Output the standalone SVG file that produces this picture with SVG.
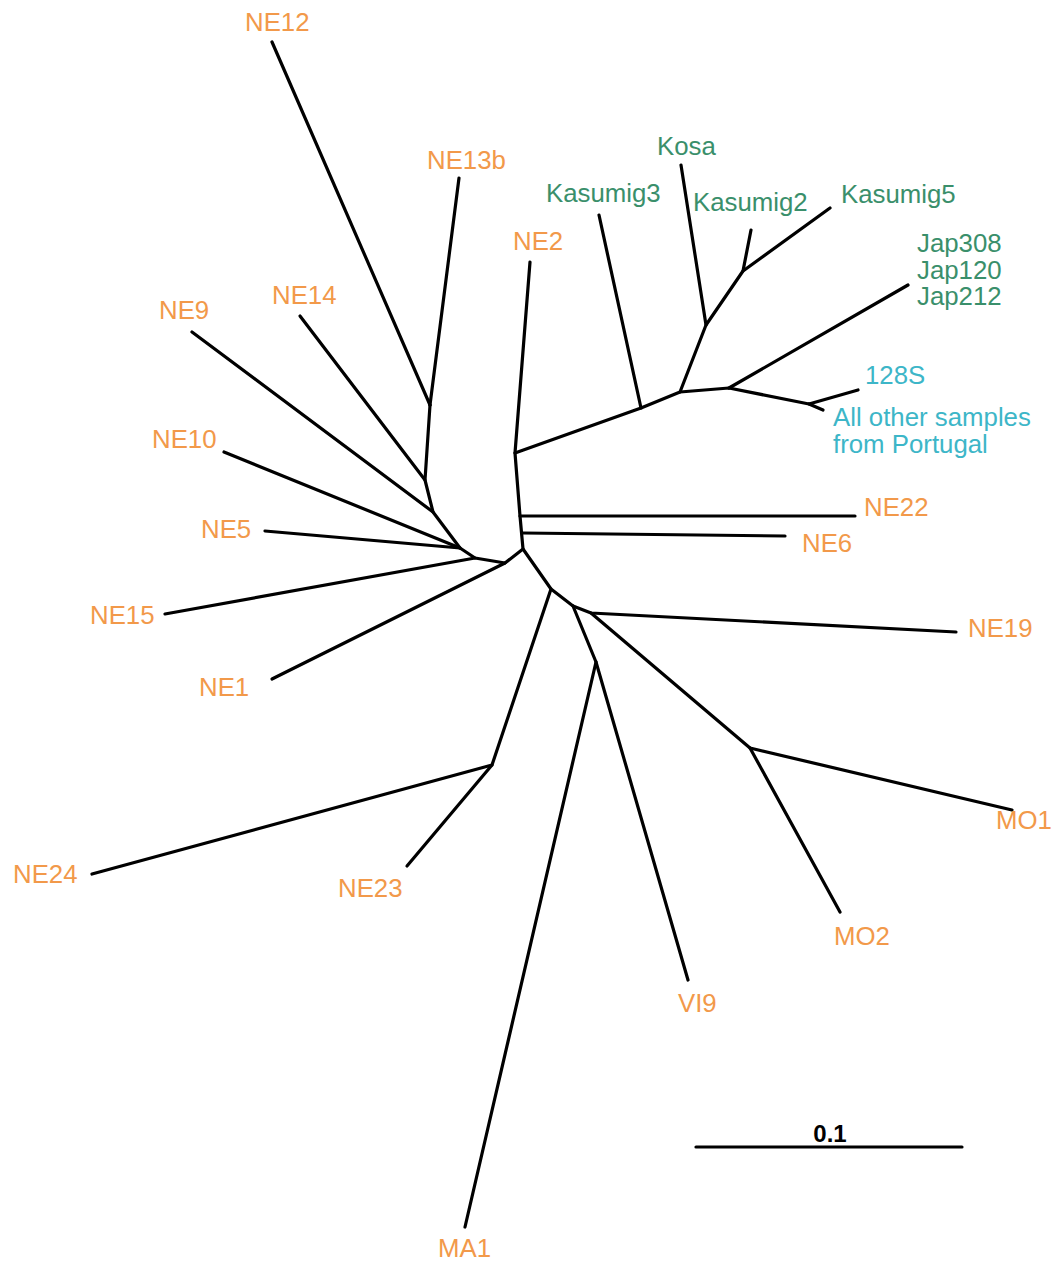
<svg xmlns="http://www.w3.org/2000/svg" width="1059" height="1266" viewBox="0 0 1059 1266">
<style>
.e{stroke:#000;stroke-width:3.2;fill:none;stroke-linecap:round;stroke-linejoin:round}
text{font-family:"Liberation Sans",Arial,sans-serif;font-size:25.8px}
.o{fill:#F2994A}
.g{fill:#3A8F6B}
.c{fill:#3DB6C8}
.s{font-weight:bold;font-size:24px;fill:#000}
</style>
<rect width="1059" height="1266" fill="#fff"/>
<g id="connectors" class="e">
<polyline points="430,405 425,480 433,512 460,548 475,558 505,563 523,549 520,516 515,453 530,262"/>
<line x1="430" y1="405" x2="272" y2="42"/>
<line x1="430" y1="405" x2="459" y2="178"/>
<line x1="425" y1="480" x2="300" y2="316"/>
<line x1="433" y1="512" x2="192" y2="332"/>
<line x1="460" y1="548" x2="224" y2="452"/>
<line x1="460" y1="548" x2="265" y2="531"/>
<line x1="475" y1="558" x2="165" y2="614"/>
<line x1="505" y1="563" x2="272" y2="679"/>
<line x1="520" y1="516" x2="855" y2="516"/>
<line x1="523" y1="533" x2="785" y2="536"/>
<polyline points="515,453 641,408 680,392 706,325 743,271 751,230"/>
<line x1="641" y1="408" x2="599" y2="215"/>
<line x1="706" y1="325" x2="681" y2="165"/>
<line x1="743" y1="271" x2="830" y2="208"/>
<polyline points="680,392 729,388 809,404 858,390"/>
<line x1="729" y1="388" x2="908" y2="285"/>
<line x1="809" y1="404" x2="823" y2="410"/>
<polyline points="523,549 551,589 573,606 591,613 956,632"/>
<polyline points="551,589 492,765 92,874"/>
<line x1="492" y1="765" x2="407" y2="866"/>
<polyline points="573,606 596,662 465,1227"/>
<line x1="596" y1="662" x2="688" y2="980"/>
<polyline points="591,613 750,748 1012,810"/>
<line x1="750" y1="748" x2="840" y2="912"/>
</g>
<g id="NE12"><text class="o" x="245" y="31">NE12</text></g>
<g id="NE13b"><text class="o" x="427" y="169">NE13b</text></g>
<g id="NE2"><text class="o" x="513" y="250">NE2</text></g>
<g id="NE14"><text class="o" x="272" y="304">NE14</text></g>
<g id="NE9"><text class="o" x="159" y="319">NE9</text></g>
<g id="NE10"><text class="o" x="152" y="448">NE10</text></g>
<g id="NE5"><text class="o" x="201" y="538">NE5</text></g>
<g id="NE15"><text class="o" x="90" y="624">NE15</text></g>
<g id="NE1"><text class="o" x="199" y="696">NE1</text></g>
<g id="NE24"><text class="o" x="13" y="883">NE24</text></g>
<g id="NE23"><text class="o" x="338" y="897">NE23</text></g>
<g id="MA1"><text class="o" x="438" y="1257">MA1</text></g>
<g id="VI9"><text class="o" x="678" y="1012">VI9</text></g>
<g id="MO2"><text class="o" x="834" y="945">MO2</text></g>
<g id="MO1"><text class="o" x="996" y="829">MO1</text></g>
<g id="NE19"><text class="o" x="968" y="637">NE19</text></g>
<g id="NE6"><text class="o" x="802" y="552">NE6</text></g>
<g id="NE22"><text class="o" x="864" y="516">NE22</text></g>
<g id="Kasumig3"><text class="g" x="546" y="202">Kasumig3</text></g>
<g id="Kosa"><text class="g" x="657" y="155">Kosa</text></g>
<g id="Kasumig2"><text class="g" x="693" y="211">Kasumig2</text></g>
<g id="Kasumig5"><text class="g" x="841" y="203">Kasumig5</text></g>
<g id="Jap"><text class="g" x="917" y="252">Jap308</text><text class="g" x="917" y="279">Jap120</text><text class="g" x="917" y="305">Jap212</text></g>
<g id="S128"><text class="c" x="865" y="384">128S</text></g>
<g id="Portugal"><text class="c" x="833" y="426">All other samples</text><text class="c" x="833" y="453">from Portugal</text></g>
<g id="scale"><line class="e" x1="696" y1="1147" x2="962" y2="1147"/><text class="s" x="830" y="1142" text-anchor="middle">0.1</text></g>
</svg>
